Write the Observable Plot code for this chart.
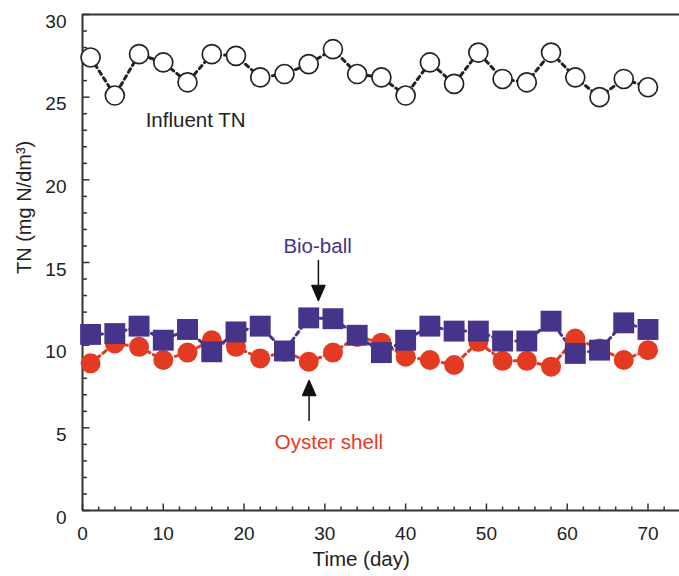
<!DOCTYPE html>
<html><head><meta charset="utf-8">
<script src="https://cdn.jsdelivr.net/npm/d3@7"></script>
<script src="https://cdn.jsdelivr.net/npm/@observablehq/plot@0.6"></script>
<style>body{margin:0;background:#fff}</style>
</head><body><div id="chart"></div>
<script>
const days = [1, 4, 7, 10, 13, 16, 19, 22, 25, 28, 31, 34, 37, 40, 43, 46, 49, 52, 55, 58, 61, 64, 67, 70];
const influent = [27.4, 25.1, 27.6, 27.1, 25.9, 27.6, 27.5, 26.2, 26.4, 27.0, 27.9, 26.4, 26.2, 25.1, 27.1, 25.8, 27.7, 26.1, 25.9, 27.7, 26.2, 25.0, 26.1, 25.6];
const bioball = [10.65, 10.7, 11.15, 10.3, 10.95, 9.6, 10.8, 11.15, 9.65, 11.65, 11.6, 10.6, 9.55, 10.3, 11.15, 10.85, 10.85, 10.25, 10.25, 11.45, 9.5, 9.7, 11.35, 10.95];
const oyster = [8.9, 10.1, 9.9, 9.1, 9.55, 10.3, 9.9, 9.2, 9.6, 9.0, 9.55, 10.5, 10.15, 9.3, 9.1, 8.8, 10.2, 9.05, 9.05, 8.7, 10.4, 9.8, 9.1, 9.7];

const xTickLabels = [0, 10, 20, 30, 40, 50, 60, 70];
const xMinorTicks = [2, 4, 6, 8, 12, 14, 16, 18, 22, 24, 26, 28, 32, 34, 36, 38, 42, 44, 46, 48, 52, 54, 56, 58, 62, 64, 66, 68, 72];
const yTickLabels = [0, 5, 10, 15, 20, 25, 30];
const yMinorTicks = [1, 2, 3, 4, 6, 7, 8, 9, 11, 12, 13, 14, 16, 17, 18, 19, 21, 22, 23, 24, 26, 27, 28, 29];

const seriesLabels = [
  {text: "Influent TN", day: 14.0, value: 23.6, color: "#222"},
  {text: "Bio-ball", day: 29.1, value: 15.95, color: "#46348a"},
  {text: "Oyster shell", day: 30.5, value: 4.13, color: "#e33a22"}
];
const arrows = [
  {day: 29.2, value: 15.12, dir: 180},
  {day: 28.05, value: 5.44, dir: 0}
];

const rows = days.map((d, i) => ({day: d, influent: influent[i], bioball: bioball[i], oyster: oyster[i]}));

const tickShape = {draw(ctx, l) { ctx.moveTo(0, 0); ctx.lineTo(0, -l); }};
const arrowShape = {draw(ctx, l) {
  ctx.moveTo(0, 0); ctx.lineTo(0, -l + 12);
  ctx.moveTo(-6.5, -l + 15); ctx.lineTo(0, -l); ctx.lineTo(6.5, -l + 15); ctx.closePath();
}};

const axisColor = "#333";
const chart = Plot.plot({
  width: 679,
  height: 576,
  marginLeft: 82,
  marginRight: 0,
  marginTop: 14,
  marginBottom: 66,
  x: {domain: [0, 73.9]},
  y: {domain: [0, 30]},
  style: {fontFamily: "'Liberation Sans', Arial, sans-serif", fontSize: "19px", color: "#222", background: "#fff"},
  marks: [
    Plot.ruleX([0], {stroke: axisColor, strokeWidth: 2}),
    Plot.ruleY([0], {stroke: axisColor, strokeWidth: 2}),
    Plot.ruleY([30], {stroke: axisColor, strokeWidth: 2}),
    Plot.vector(xTickLabels, {x: d => d, frameAnchor: "bottom", anchor: "start", rotate: 0, length: 7, shape: tickShape, stroke: axisColor, strokeWidth: 1.5, strokeLinecap: "butt"}),
    Plot.vector(xMinorTicks, {x: d => d, frameAnchor: "bottom", anchor: "start", rotate: 0, length: 4, shape: tickShape, stroke: axisColor, strokeWidth: 1.5, strokeLinecap: "butt"}),
    Plot.vector(yTickLabels, {y: d => d, frameAnchor: "left", anchor: "start", rotate: 90, length: 7, shape: tickShape, stroke: axisColor, strokeWidth: 1.5, strokeLinecap: "butt"}),
    Plot.vector(yMinorTicks, {y: d => d, frameAnchor: "left", anchor: "start", rotate: 90, length: 4.5, shape: tickShape, stroke: axisColor, strokeWidth: 1.5, strokeLinecap: "butt"}),
    Plot.axisX(xTickLabels, {tickSize: 0, tickPadding: 16, label: null, fontSize: 19}),
    Plot.axisY(yTickLabels, {tickSize: 0, tickPadding: 16, label: null, dy: 7, fontSize: 19}),
    Plot.text(["Time (day)"], {x: [34.5], frameAnchor: "bottom", dy: 55, fontSize: 20.5, fill: "#222"}),
    Plot.text(["TN (mg N/dm³)"], {y: [14.3], frameAnchor: "left", dx: -58, rotate: -90, fontSize: 20, fill: "#222"}),
    Plot.line(rows, {x: "day", y: "influent", stroke: "#222", strokeWidth: 3, strokeDasharray: "4,4"}),
    Plot.dot(rows, {x: "day", y: "influent", r: 9.5, fill: "white", stroke: "#222", strokeWidth: 1.7}),
    Plot.line(rows, {x: "day", y: "oyster", stroke: "#e33a22", strokeWidth: 3, strokeDasharray: "4,4"}),
    Plot.line(rows, {x: "day", y: "bioball", stroke: "#46348a", strokeWidth: 3, strokeDasharray: "4,4"}),
    Plot.dot(rows, {x: "day", y: "oyster", r: 10, fill: "#e33a22"}),
    Plot.dot(rows, {x: "day", y: "bioball", symbol: "square", r: 11.8, fill: "#46348a"}),
    Plot.text(seriesLabels, {x: "day", y: "value", text: "text", fill: "color", fontSize: 20.5}),
    Plot.vector(arrows, {x: "day", y: "value", rotate: "dir", anchor: "start", length: 40, shape: arrowShape, stroke: "#111", fill: "#111", strokeWidth: 1.5})
  ]
});
document.getElementById("chart").appendChild(chart);
</script>
</body></html>
